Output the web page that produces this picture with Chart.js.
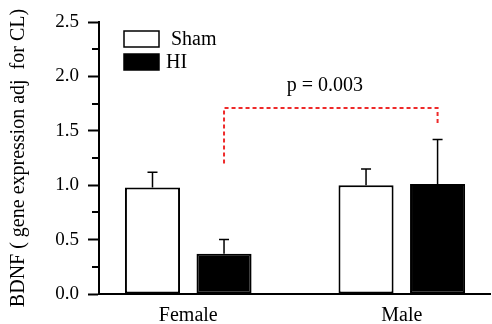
<!DOCTYPE html>
<html>
<head>
<meta charset="utf-8">
<script src="https://cdn.jsdelivr.net/npm/chart.js@4"></script>
<style>
  html, body { margin: 0; padding: 0; background: #fff; }
  #wrap { width: 492px; height: 324px; }
</style>
</head>
<body>
<div id="wrap"><canvas id="chart"></canvas></div>
<script>
// data
var groups = ["Female", "Male"];
var groupPos = [1, 2];
var shamValues = [0.98, 1.0];
var shamErr = [0.14, 0.15];
var hiValues = [0.37, 1.01];
var hiErr = [0.13, 0.41];
var yTicks = [0, 0.5, 1.0, 1.5, 2.0, 2.5];

// significance bracket (HI female vs HI male)
var pLabel = "p = 0.003";
var bracketTop = 1.71;
var bracketEnds = [1.2, 1.55];
var pLabelY = 1.91;

var FONT = "'Liberation Serif', 'Times New Roman', serif";

function toPoints(vals) {
    var pts = [];
    for (var i = 0; i < vals.length; i++) pts.push({ x: groupPos[i], y: vals[i] });
    return pts;
}

// error bars, upward only
var errorBars = {
    id: "errorBars",
    afterDatasetsDraw: function (chart) {
        var ctx = chart.ctx;
        var yScale = chart.scales.y;
        ctx.save();
        ctx.strokeStyle = "black";
        ctx.lineWidth = 1.5;
        chart.data.datasets.forEach(function (ds, di) {
            var meta = chart.getDatasetMeta(di);
            meta.data.forEach(function (bar, i) {
                var top = yScale.getPixelForValue(ds.data[i].y + ds.errors[i]);
                ctx.beginPath();
                ctx.moveTo(bar.x, bar.y);
                ctx.lineTo(bar.x, top);
                ctx.moveTo(bar.x - 5, top);
                ctx.lineTo(bar.x + 5, top);
                ctx.stroke();
            });
        });
        ctx.restore();
    }
};

// minor y ticks are shorter than the major ones
var minorTicks = {
    id: "minorTicks",
    afterDraw: function (chart) {
        var ctx = chart.ctx;
        var yScale = chart.scales.y;
        ctx.save();
        ctx.strokeStyle = "black";
        ctx.lineWidth = 2;
        yScale.ticks.forEach(function (t) {
            if (yTicks.indexOf(t.value) >= 0) return;
            var py = Math.round(yScale.getPixelForValue(t.value));
            ctx.beginPath();
            ctx.moveTo(yScale.right - 7, py);
            ctx.lineTo(yScale.right, py);
            ctx.stroke();
        });
        ctx.restore();
    }
};

// legend in the upper left of the plot
var boxLegend = {
    id: "boxLegend",
    afterDraw: function (chart) {
        var ctx = chart.ctx;
        ctx.save();
        ctx.font = "20px " + FONT;
        ctx.textBaseline = "middle";
        ctx.textAlign = "left";
        chart.data.datasets.forEach(function (ds, i) {
            var bx = 124, by = 31 + i * 23;
            ctx.fillStyle = ds.backgroundColor;
            ctx.fillRect(bx, by, 35, 16);
            ctx.strokeStyle = "black";
            ctx.lineWidth = 1.5;
            ctx.strokeRect(bx, by, 35, 16);
            ctx.fillStyle = "black";
            ctx.fillText(ds.label, i == 0 ? 171 : 166, by + 9);
        });
        ctx.restore();
    }
};

// red dotted bracket with p value
var pBracket = {
    id: "pBracket",
    afterDraw: function (chart) {
        var ctx = chart.ctx;
        var yScale = chart.scales.y;
        var hiMeta = chart.getDatasetMeta(1);
        var x1 = hiMeta.data[0].x, x2 = hiMeta.data[1].x;
        var yTop = yScale.getPixelForValue(bracketTop);
        ctx.save();
        ctx.strokeStyle = "#ee2a2a";
        ctx.lineWidth = 2;
        ctx.setLineDash([4, 3]);
        ctx.beginPath();
        ctx.moveTo(x1, yScale.getPixelForValue(bracketEnds[0]));
        ctx.lineTo(x1, yTop);
        ctx.lineTo(x2, yTop);
        ctx.lineTo(x2, yScale.getPixelForValue(bracketEnds[1]));
        ctx.stroke();
        ctx.setLineDash([]);
        ctx.fillStyle = "black";
        ctx.font = "20px " + FONT;
        ctx.textAlign = "center";
        ctx.textBaseline = "middle";
        ctx.fillText(pLabel, (x1 + x2) / 2 - 6, yScale.getPixelForValue(pLabelY));
        ctx.restore();
    }
};

var ctx = document.getElementById("chart").getContext("2d");
var myChart = new Chart(ctx, {
    type: "bar",
    data: {
        datasets: [{
            label: "Sham",
            data: toPoints(shamValues),
            errors: shamErr,
            backgroundColor: "#ffffff",
            borderColor: "#000000",
            borderWidth: 2,
            borderSkipped: false
        }, {
            label: "HI",
            data: toPoints(hiValues),
            errors: hiErr,
            backgroundColor: "#000000",
            borderColor: "#000000",
            borderWidth: 2,
            borderSkipped: false
        }]
    },
    options: {
        responsive: true,
        maintainAspectRatio: false,
        animation: false,
        devicePixelRatio: 1,
        categoryPercentage: 0.67,
        barPercentage: 0.77,
        layout: { padding: { top: 22, right: 2, left: 0, bottom: 0 } },
        plugins: {
            legend: { display: false },
            tooltip: { enabled: false }
        },
        scales: {
            x: {
                type: "linear",
                offset: false,
                min: 0.582,
                max: 2.413,
                afterBuildTicks: function (scale) {
                    scale.ticks = groupPos.map(function (v) { return { value: v }; });
                },
                afterFit: function (scale) { scale.height = 30; },
                grid: { display: false, drawTicks: false, offset: false },
                border: { display: true, color: "#000", width: 2 },
                ticks: {
                    padding: 10,
                    color: "#000",
                    font: { family: FONT, size: 20 },
                    callback: function (v) {
                        var i = groupPos.indexOf(v);
                        return i >= 0 ? groups[i] : "";
                    }
                }
            },
            y: {
                min: 0,
                max: 2.5,
                afterFit: function (scale) { scale.width = 99; },
                afterBuildTicks: function (scale) {
                    var t = [];
                    for (var v = 0; v <= 2.5001; v += 0.25) t.push({ value: Math.round(v * 100) / 100 });
                    scale.ticks = t;
                },
                grid: {
                    drawOnChartArea: false,
                    drawTicks: true,
                    tickLength: 11,
                    tickWidth: 2,
                    color: function (c) {
                        return c.tick && yTicks.indexOf(c.tick.value) >= 0 ? "#000" : "rgba(0,0,0,0)";
                    }
                },
                border: { display: true, color: "#000", width: 2 },
                ticks: {
                    padding: 9,
                    color: "#000",
                    font: { family: FONT, size: 19 },
                    callback: function (v) {
                        return yTicks.indexOf(v) >= 0 ? v.toFixed(1) : "";
                    }
                },
                title: {
                    display: true,
                    text: "BDNF ( gene expression adj  for CL)",
                    color: "#000",
                    font: { family: FONT, size: 20 },
                    padding: { top: 7, bottom: 0 }
                }
            }
        }
    },
    plugins: [errorBars, minorTicks, boxLegend, pBracket]
});
</script>
</body>
</html>
